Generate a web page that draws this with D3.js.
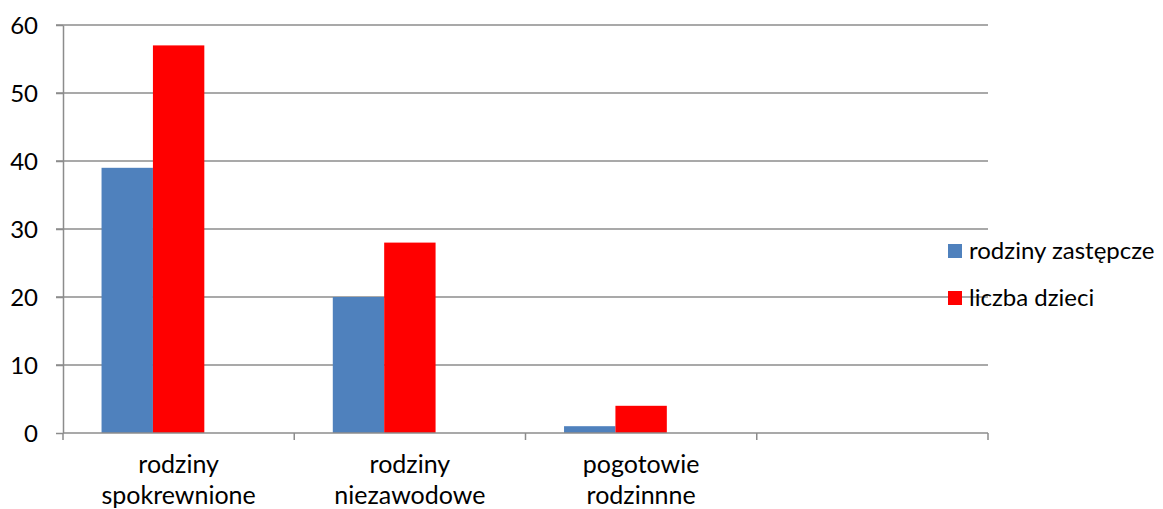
<!doctype html>
<html lang="pl">
<head>
  <meta charset="utf-8">
  <title>Rodziny zastępcze</title>
  <style>
    body { margin: 0; background: #fff; }
    svg { display: block; font-family: Lato, "Open Sans", sans-serif; }
    .grid line { stroke: #8c8c8c; stroke-width: 1.5; }
    .axis path, .axis line { stroke: #8c8c8c; stroke-width: 1.5; }
    .axis text { fill: #000; font-size: 24px; font-family: Lato, sans-serif; }
    .axis text.cat { font-size: 25px; }
  </style>
</head>
<body>
  <div id="chart"></div>
  <script src="https://cdn.jsdelivr.net/npm/d3@7"></script>
  <script>
(function() {

  var categories = [["rodziny", "spokrewnione"], ["rodziny", "niezawodowe"], ["pogotowie", "rodzinnne"], [""]];
  var seriesNames = ["rodziny zastępcze", "liczba dzieci"];
  var seriesColors = ["#4f81bd", "#ff0000"];
  var rodzinyZastepcze = [39, 20, 1, null];
  var liczbaDzieci = [57, 28, 4, null];
  var yTicks = [0, 10, 20, 30, 40, 50, 60];

  var width = 1163, height = 509;
  var left = 63, right = 988, top = 25, bottom = 433;

  var svg = d3.select("#chart").append("svg")
      .attr("width", width)
      .attr("height", height);

  var x = d3.scaleBand()
      .domain(d3.range(categories.length))
      .range([left, right]);

  // third slot is an empty series, as in the source spreadsheet
  var xs = d3.scaleBand()
      .domain([0, 1, 2])
      .range([0, x.bandwidth()])
      .paddingInner(0)
      .paddingOuter(0.75);

  var y = d3.scaleLinear().domain([0, 60]).range([bottom, top]);

  // gridlines
  svg.append("g").attr("class", "grid")
    .selectAll("line").data(yTicks.filter(function(d) { return d > 0; }))
    .enter().append("line")
      .attr("x1", left - 7).attr("x2", right)
      .attr("y1", function(d) { return y(d); })
      .attr("y2", function(d) { return y(d); });

  // bars
  var series = [rodzinyZastepcze, liczbaDzieci];
  series.forEach(function(vals, si) {
    svg.append("g").selectAll("rect")
      .data(vals.map(function(v, i) { return {i: i, v: v}; }).filter(function(d) { return d.v != null; }))
      .enter().append("rect")
        .attr("x", function(d) { return x(d.i) + xs(si); })
        .attr("width", xs.bandwidth())
        .attr("y", function(d) { return y(d.v); })
        .attr("height", function(d) { return y(0) - y(d.v); })
        .attr("fill", seriesColors[si]);
  });

  // y axis
  var yAxis = svg.append("g").attr("class", "axis")
      .attr("transform", "translate(" + left + ",0)")
      .call(d3.axisLeft(y).tickValues(yTicks).tickSize(7).tickSizeOuter(0).tickPadding(18));
  yAxis.selectAll("text").attr("dy", "0.35em");

  // x axis
  var xAxis = svg.append("g").attr("class", "axis")
      .attr("transform", "translate(0," + bottom + ")");
  xAxis.append("line").attr("x1", left).attr("x2", right);
  xAxis.selectAll(".tk").data(d3.range(categories.length + 1))
    .enter().append("line")
      .attr("x1", function(d) { return left + d * x.step(); })
      .attr("x2", function(d) { return left + d * x.step(); })
      .attr("y1", 0).attr("y2", 7);

  var labels = xAxis.selectAll(".cat").data(categories)
    .enter().append("text")
      .attr("class", "cat")
      .attr("text-anchor", "middle")
      .attr("x", function(d, i) { return x(i) + x.bandwidth() / 2; });
  labels.selectAll("tspan").data(function(d) { return d; })
    .enter().append("tspan")
      .attr("x", function() { return +this.parentNode.getAttribute("x"); })
      .attr("y", function(d, i) { return 40 + i * 31; })
      .text(function(d) { return d; });

  // legend
  var legend = svg.append("g").attr("transform", "translate(948,0)");
  var ly = [251, 298];
  seriesNames.forEach(function(n, i) {
    legend.append("rect")
      .attr("x", 0).attr("y", ly[i] - 7)
      .attr("width", 14).attr("height", 14)
      .attr("fill", seriesColors[i]);
    legend.append("text")
      .attr("x", 21).attr("y", ly[i])
      .attr("dy", "0.35em")
      .attr("font-size", 24)
      .text(n);
  });

})();
  </script>
</body>
</html>
